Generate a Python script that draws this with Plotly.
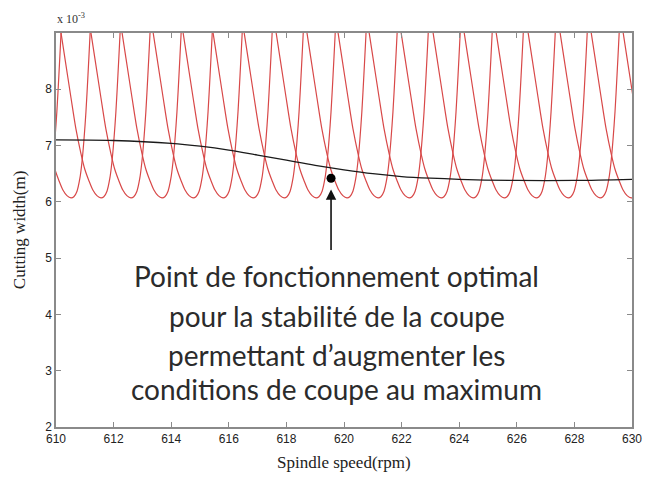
import plotly.graph_objects as go

# ---- data ----
# spindle speed (rpm) of each stability-lobe minimum
lobe_min_rpm = [609.51, 610.52, 611.56, 612.60, 613.68, 614.76, 615.80, 616.84,
                617.92, 619.03, 620.10, 621.18, 622.26, 623.37, 624.48, 625.56,
                626.67, 627.78, 628.89, 629.97, 631.08]
# lobe profile read from one lobe: speed offset from its minimum (rpm) and cutting width (x1e-3 m)
lobe_offset_rpm = [-1.46, -1.25, -1.04, -0.87, -0.69, -0.56, -0.42, -0.28, -0.14, 0.0,
                   0.10, 0.21, 0.31, 0.38, 0.45, 0.52, 0.59, 0.66, 0.69]
lobe_width = [9.25, 8.55, 7.85, 7.30, 6.85, 6.58, 6.38, 6.21, 6.11, 6.07,
              6.09, 6.19, 6.42, 6.70, 7.10, 7.60, 8.25, 8.95, 9.30]

# black curve
curve_speed = [610.0, 612.0, 614.0, 615.0, 616.0, 617.0, 618.0, 619.0, 620.0,
               621.0, 622.0, 623.0, 624.0, 626.0, 628.0, 630.0]
curve_width = [7.10, 7.09, 7.04, 6.99, 6.92, 6.83, 6.74, 6.65, 6.57,
               6.50, 6.45, 6.42, 6.40, 6.38, 6.38, 6.40]

# optimal point
opt_speed = [619.55]
opt_width = [6.42]

x_ticks = [610, 612, 614, 616, 618, 620, 622, 624, 626, 628, 630]
y_ticks = [2, 3, 4, 5, 6, 7, 8]

text_lines = ["Point de fonctionnement optimal",
              "pour la stabilité de la coupe",
              "permettant d\u2019augmenter les",
              "conditions de coupe au maximum"]
text_y = [4.68, 3.97, 3.28, 2.67]

# ---- figure ----
lx, ly = [], []
for m in lobe_min_rpm:
    for o, w in zip(lobe_offset_rpm, lobe_width):
        lx.append(m + o)
        ly.append(w)
    lx.append(None)
    ly.append(None)

fig = go.Figure()
fig.add_trace(go.Scatter(x=lx, y=ly, mode="lines",
                         line=dict(color="rgb(216,72,72)", width=1.2, shape="spline", smoothing=0.8),
                         hoverinfo="skip", showlegend=False))
fig.add_trace(go.Scatter(x=curve_speed, y=curve_width, mode="lines",
                         line=dict(color="#1a1a1a", width=1.3, shape="spline"),
                         showlegend=False))
fig.add_trace(go.Scatter(x=opt_speed, y=opt_width, mode="markers",
                         marker=dict(color="#000", size=9, symbol="circle"),
                         showlegend=False))

axis_common = dict(showline=True, linecolor="#8a8a8a", linewidth=1.5, mirror="ticks",
                   ticks="inside", ticklen=5, tickcolor="#8a8a8a", showgrid=False,
                   zeroline=False, ticklabeloverflow="allow", automargin=False,
                   tickfont=dict(family="Liberation Sans", size=12, color="#222"))

fig.update_layout(
    width=645, height=479,
    margin=dict(l=56, r=13, t=33, b=52, autoexpand=False),
    paper_bgcolor="white", plot_bgcolor="white",
    xaxis=dict(range=[610, 630], tickvals=x_ticks, ticktext=[str(v) for v in x_ticks], **axis_common),
    yaxis=dict(range=[2, 9], tickvals=y_ticks, ticktext=[str(v) for v in y_ticks], **axis_common),
)

# arrow
fig.add_annotation(x=opt_speed[0], y=6.22, ax=opt_speed[0], ay=5.12, xref="x", yref="y",
                   axref="x", ayref="y", showarrow=True, arrowhead=2, arrowsize=1.3,
                   arrowwidth=1.6, arrowcolor="#111", text="")

for t, yv in zip(text_lines, text_y):
    fig.add_annotation(x=619.75, y=yv, xref="x", yref="y", text=t, showarrow=False,
                       xanchor="center", yanchor="middle",
                       font=dict(family="Lato", size=28, color="#2b2b2b"))

# axis titles & exponent
fig.add_annotation(x=-0.064, y=0.5, xref="paper", yref="paper", text="Cutting width(m)",
                   textangle=-90, showarrow=False, xanchor="center", yanchor="middle",
                   font=dict(family="Liberation Serif", size=17, color="#222"))
fig.add_annotation(x=0.5, y=-0.091, xref="paper", yref="paper", text="Spindle speed(rpm)",
                   showarrow=False, xanchor="center", yanchor="middle",
                   font=dict(family="Liberation Serif", size=17, color="#222"))
fig.add_annotation(x=-0.002, y=1.036, xref="paper", yref="paper", text="x 10<sup>-3</sup>",
                   showarrow=False, xanchor="left", yanchor="middle",
                   font=dict(family="Liberation Serif", size=12, color="#333"))

# remove the page's default body margin so the figure fills the window exactly
fig.write_html("out.html", config={"displayModeBar": False},
               post_script="document.body.style.margin='0';document.body.style.overflow='hidden';")
